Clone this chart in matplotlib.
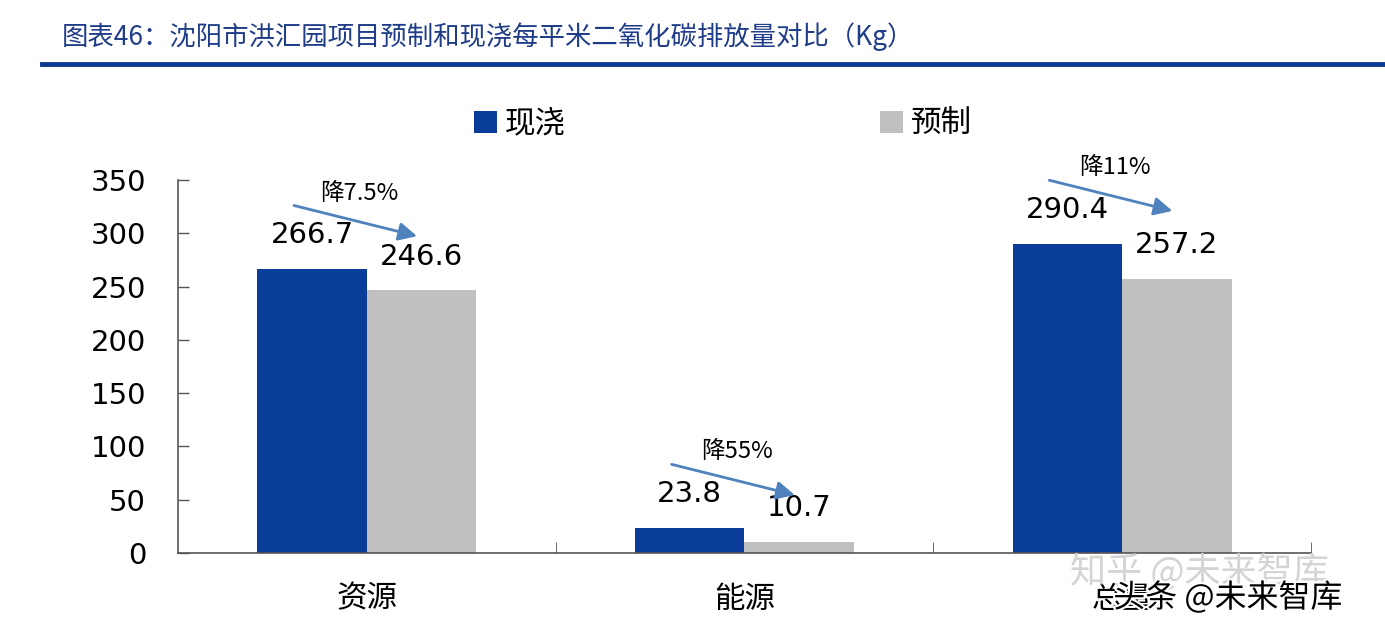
import matplotlib.pyplot as plt
import matplotlib.patheffects as pe
import numpy as np

plt.rcParams['font.family'] = ['Noto Sans CJK SC', 'DejaVu Sans']

# data
categories = ['资源', '能源', '总量']
cast_in_place = [266.7, 23.8, 290.4]   # 现浇
prefab = [246.6, 10.7, 257.2]          # 预制
drop_labels = ['降7.5%', '降55%', '降11%']
series_names = ['现浇', '预制']
y_ticks = [0, 50, 100, 150, 200, 250, 300, 350]

blue = '#0A3D9A'
gray = '#C0C0C0'
arrow_color = '#4F81BD'

fig = plt.figure(figsize=(13.85, 6.32), dpi=100)

# title and rule line
fig.text(62 / 1385, 1 - 37 / 632, '图表46：沈阳市洪汇园项目预制和现浇每平米二氧化碳排放量对比（Kg）',
         fontsize=19, color='#1F3C88', va='center', ha='left')
fig.add_artist(plt.Line2D([42 / 1385, 1.0], [1 - 64 / 632, 1 - 64 / 632],
                          color='#0B3A8F', linewidth=3.5))

ax = fig.add_axes([178 / 1385, 1 - 553 / 632, (1311 - 178) / 1385, (553 - 180) / 632])

x = np.arange(len(categories))
w = 0.29
b1 = ax.bar(x - 0.145, cast_in_place, w, color=blue, label=series_names[0], zorder=2)
b2 = ax.bar(x + 0.145, prefab, w, color=gray, label=series_names[1], zorder=1)

# value labels above bars
for bars in (b1, b2):
    for r in bars:
        ax.annotate(f'{r.get_height():.1f}', (r.get_x() + r.get_width() / 2, r.get_height()),
                    xytext=(0, 14), textcoords='offset points', ha='center', va='bottom',
                    fontsize=21, family='DejaVu Sans')

# arrows with drop labels
for i, (a, lab) in enumerate(zip(cast_in_place, drop_labels)):
    y0 = a + 60
    ax.annotate('', xy=(i + 0.14, y0 - 30), xytext=(i - 0.20, y0),
                arrowprops=dict(arrowstyle='-|>,head_length=1.1,head_width=0.55',
                                color=arrow_color, lw=2), annotation_clip=False)
    ax.text(i - 0.02, y0 + 11, lab, ha='center', va='center', fontsize=17, clip_on=False)

ax.set_xlim(-0.5, 2.5)
ax.set_ylim(0, 350)
ax.set_yticks(y_ticks)
ax.tick_params(axis='y', direction='in', length=8, width=1, labelsize=21, pad=23, color='#555555')
for t in ax.get_yticklabels():
    t.set_family('DejaVu Sans')
ax.set_xticks(x)
ax.set_xticklabels(categories, fontsize=22)
ax.tick_params(axis='x', which='major', length=0, pad=22)
ax.set_xticks([0.5, 1.5, 2.5], minor=True)
ax.tick_params(axis='x', which='minor', direction='in', length=8, color='#555555')

for s in ['top', 'right']:
    ax.spines[s].set_visible(False)
for s in ['left', 'bottom']:
    ax.spines[s].set_color('#555555')
    ax.spines[s].set_linewidth(1.2)

leg = fig.legend(handles=[b1, b2], labels=series_names, loc='center',
                 bbox_to_anchor=(723 / 1385, 1 - 124 / 632), ncol=2, frameon=False,
                 fontsize=22, handlelength=0.75, handleheight=0.75, handletextpad=0.25,
                 columnspacing=10.3)

# watermark (overlaps the last category label, as in the source image)
fig.text(1200 / 1385, 1 - 572 / 632, '知乎 @未来智库', fontsize=26, color='#D0D0D0',
         ha='center', va='center', alpha=0.9)
fig.text(1228 / 1385, 1 - 598 / 632, '头条 @未来智库', fontsize=23, color='black',
         ha='center', va='center',
         path_effects=[pe.withStroke(linewidth=3, foreground='white')])

fig.savefig('out.png', dpi=100)
